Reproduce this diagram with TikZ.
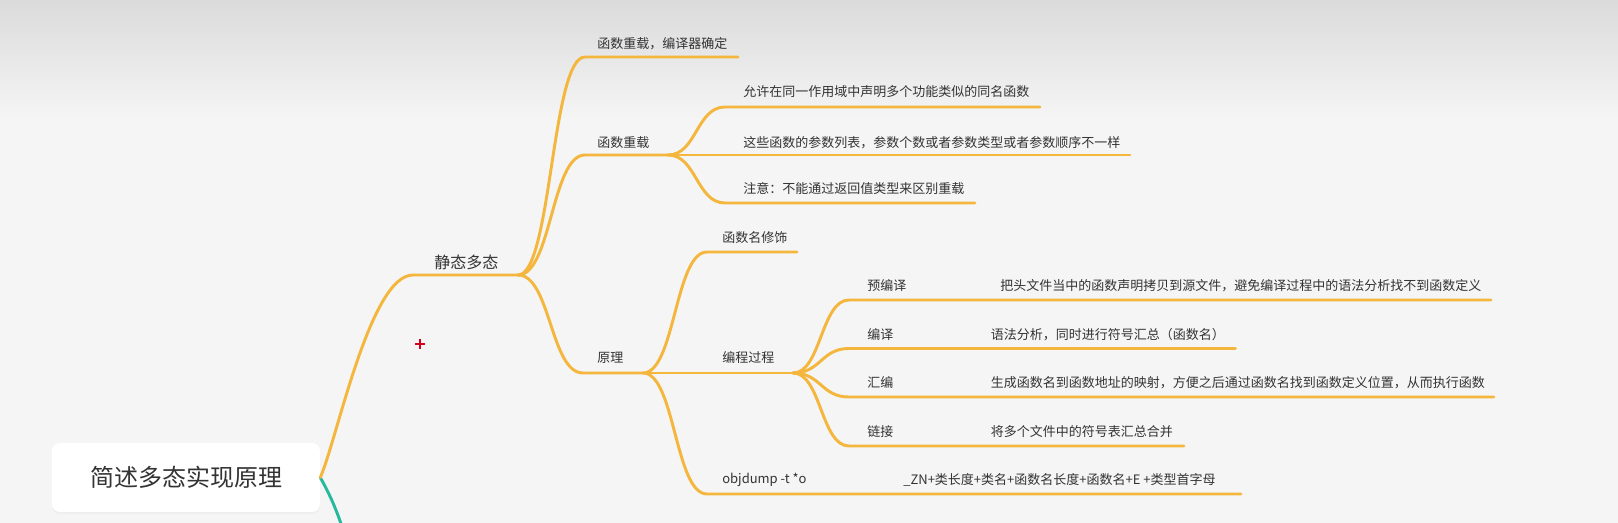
\documentclass[tikz,border=0pt]{standalone}
\usepackage{fontspec}
\setmainfont{Noto Sans CJK SC}
\usetikzlibrary{calc,shadows}
\definecolor{bgc}{HTML}{F5F5F5}
\definecolor{topg}{HTML}{DBDBDB}
\definecolor{orng}{HTML}{F4B63C}
\definecolor{tealc}{HTML}{27B99C}
\definecolor{txtc}{HTML}{333333}
\definecolor{redc}{HTML}{D0021B}
\begin{document}
\begin{tikzpicture}[x=0.75pt,y=-0.75pt,
  branch/.style={draw=orng,line width=2.2pt,line cap=round},
  tealline/.style={draw=tealc,line width=2.2pt,line cap=round},
  lbl/.style={anchor=west,inner sep=0pt,text=txtc,font=\fontsize{9.75}{11}\selectfont},
  sconn/.style={to path={let \p1=(\tikztostart), \p2=(\tikztotarget) in
     .. controls ({0.5*\x1+0.5*\x2},\y1) and ({0.5*\x1+0.5*\x2},\y2) .. (\tikztotarget)}},
]
\useasboundingbox (0,0) rectangle (1618,523);
\fill[bgc] (0,0) rectangle (1618,523);
\shade[top color=topg,bottom color=bgc] (0,0) rectangle (1618,120);

% root
\node[fill=white,rounded corners=6pt,minimum width=201pt,minimum height=51.75pt,
      text=txtc,font=\fontsize{18}{22}\selectfont,
      drop shadow={opacity=0.06,shadow xshift=0pt,shadow yshift=-1.5pt}] (root) at (186,477.5) {简述多态实现原理};

% coordinates of topic underlines
\coordinate (s0) at (413,275);  \coordinate (s1) at (518,275);
\coordinate (a1s) at (585,57);  \coordinate (a1e) at (738,57);
\coordinate (a2s) at (585,155); \coordinate (a2e) at (668,155);
\coordinate (a3s) at (583,373); \coordinate (a3e) at (643,373);
\coordinate (b1s) at (725,107); \coordinate (b1e) at (1040,107);
\coordinate (b2e) at (1130,155);
\coordinate (b3s) at (725,203); \coordinate (b3e) at (975,203);
\coordinate (c1s) at (707,252); \coordinate (c1e) at (797,252);
\coordinate (c2e) at (793,373);
\coordinate (c3s) at (707,494); \coordinate (c3e) at (1241,494);
\coordinate (d1s) at (849,300); \coordinate (d1e) at (1491,300);
\coordinate (d2s) at (849,348.5); \coordinate (d2e) at (1235.5,348.5);
\coordinate (d3s) at (849,397); \coordinate (d3e) at (1494,397);
\coordinate (d4s) at (849,446); \coordinate (d4e) at (1184,446);
\coordinate (tealend) at (352,560);

% connectors
\begin{scope}
\clip (0,0) rectangle (1618,523);
\draw[tealline] (root.east) .. controls (333,500) and (341,520) .. (tealend);
\end{scope}
\draw[branch] (root.east) .. controls (337,440) and (370,275) .. (s0) -- (s1);
\draw[branch] (s1) to[sconn] (a1s) -- (a1e);
\draw[branch] (s1) to[sconn] (a2s) -- (a2e);
\draw[branch] (s1) to[sconn] (a3s) -- (a3e);
\draw[branch] (a2e) to[sconn] (b1s) -- (b1e);
\draw[branch] (a2e) -- (b2e);
\draw[branch] (a2e) to[sconn] (b3s) -- (b3e);
\draw[branch] (a3e) to[sconn] (c1s) -- (c1e);
\draw[branch] (a3e) -- (c2e);
\draw[branch] (a3e) to[sconn] (c3s) -- (c3e);
\draw[branch] (c2e) to[sconn] (d1s) -- (d1e);
\draw[branch] (c2e) to[sconn] (d2s) -- (d2e);
\draw[branch] (c2e) to[sconn] (d3s) -- (d3e);
\draw[branch] (c2e) to[sconn] (d4s) -- (d4e);

% labels
\node[lbl,font=\fontsize{12}{14}\selectfont] (tstatic) at (434,262) {静态多态};
\node[lbl] (ta1) at (597,44) {函数重载，编译器确定};
\node[lbl] (ta2) at (597,142.5) {函数重载};
\node[lbl] (ta3) at (597,358) {原理};
\node[lbl] (tb1) at (743,91.5) {允许在同一作用域中声明多个功能类似的同名函数};
\node[lbl] (tb2) at (743,142.5) {这些函数的参数列表，参数个数或者参数类型或者参数顺序不一样};
\node[lbl] (tb3) at (743,189) {注意：不能通过返回值类型来区别重载};
\node[lbl] (tc1) at (722,237.5) {函数名修饰};
\node[lbl] (tc2) at (722,358) {编程过程};
\node[lbl] (tc3) at (722,480) {objdump -t *o};
\node[lbl] (tc3d) at (903,480) {\_ZN+类长度+类名+函数名长度+函数名+E +类型首字母};
\node[lbl] (td1) at (867,285.5) {预编译};
\node[lbl] (td1d) at (1000,285.5) {把头文件当中的函数声明拷贝到源文件，避免编译过程中的语法分析找不到函数定义};
\node[lbl] (td2) at (867,335) {编译};
\node[lbl] (td2d) at (990.5,335) {语法分析，同时进行符号汇总（函数名）};
\node[lbl] (td3) at (867,382.5) {汇编};
\node[lbl] (td3d) at (990.5,382.5) {生成函数名到函数地址的映射，方便之后通过函数名找到函数定义位置，从而执行函数};
\node[lbl] (td4) at (867,431.5) {链接};
\node[lbl] (td4d) at (990.5,431.5) {将多个文件中的符号表汇总合并};

% red cursor mark
\draw[redc,line width=1.5pt] (415,344) -- (425,344) (420,339) -- (420,349);
\end{tikzpicture}
\end{document}
